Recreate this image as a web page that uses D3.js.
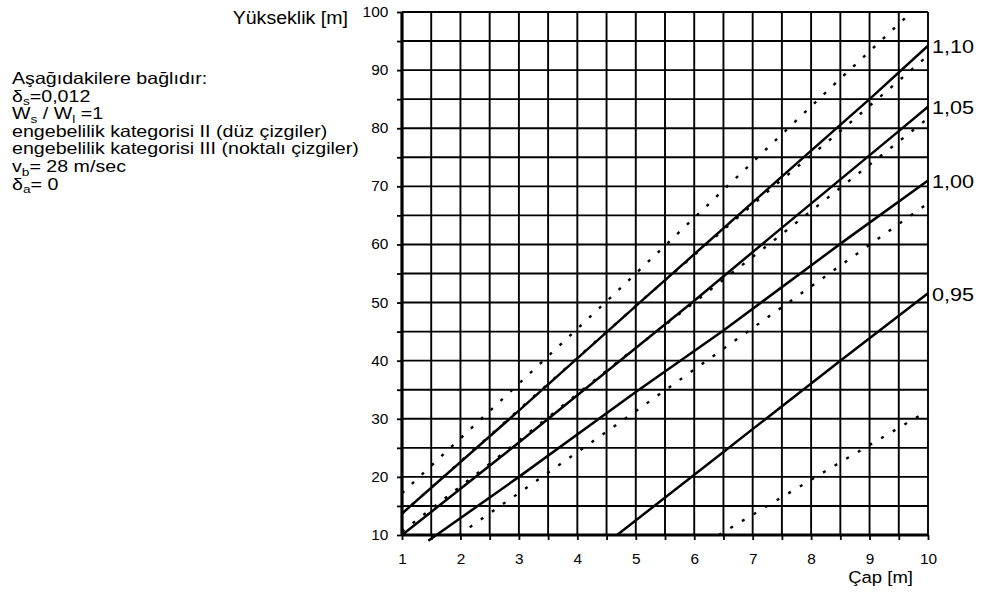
<!DOCTYPE html>
<html>
<head>
<meta charset="utf-8">
<script src="https://cdn.jsdelivr.net/npm/d3@7"></script>
<style>
  html, body { margin: 0; padding: 0; background: #fff; }
  svg { display: block; }
  text { font-family: "Liberation Sans", Arial, Helvetica, sans-serif; fill: #000; }
</style>
</head>
<body>
<svg id="chart" width="981" height="595"></svg>
<script>
// Axis tick labels
const diameterTicks = [1, 2, 3, 4, 5, 6, 7, 8, 9, 10];
const heightTicks = [10, 20, 30, 40, 50, 60, 70, 80, 90, 100];

// Ratio labels for the solid curves (top to bottom)
const ratioLabels = ["1,10", "1,05", "1,00", "0,95"];

// Terrain category II (solid lines): [diameter m, height m]
const catII_110 = [[1, 13.7], [3, 31.4], [5.1, 50.3], [8.49, 80.5], [9, 85], [10, 94.2]];
const catII_105 = [[1, 10], [3, 25.9], [6, 50.3], [7.24, 60.7], [9.5, 79.5], [10, 83.7]];
const catII_100 = [[1.45, 9.0], [3, 20], [5, 34.6], [6.5, 45.2], [8.58, 60.7], [10, 71]];
const catII_095 = [[4.68, 10], [6.5, 24.3], [8.5, 40], [10, 51.6]];

// Terrain category III (dotted lines)
const catIII_a = [[1, 17.2], [4.5, 50.2], [8.38, 87.4], [9.72, 100]];
const catIII_b = [[1, 13.7], [5.2, 51.2], [7.35, 69.9], [8.44, 79.0], [10, 92.5]];
const catIII_c = [[1, 10.6], [2.62, 23.2], [4.64, 39.4], [7.44, 61.3], [10, 81.7]];
const catIII_d = [[1.97, 10], [4.62, 28.6], [7.5, 49.2], [10, 67.1]];
const catIII_e = [[6.42, 10], [8.38, 21.8], [10, 31.4]];

// Side notes; segments flagged with 1 are subscripts
const notes = [
  [["Aşağıdakilere bağlıdır:"]],
  [["δ"], ["s", 1], ["=0,012"]],
  [["W"], ["s", 1], [" / W"], ["l", 1], [" =1"]],
  [["engebelilik kategorisi II (düz çizgiler)"]],
  [["engebelilik kategorisi III (noktalı çizgiler)"]],
  [["v"], ["b", 1], ["= 28 m/sec"]],
  [["δ"], ["a", 1], ["= 0"]]
];

const svg = d3.select("#chart");
const plotLeft = 402, plotRight = 928, plotTop = 12, plotBottom = 535;

const x = d3.scaleLinear().domain([1, 10]).range([plotLeft, plotRight]);
const y = d3.scaleLinear().domain([10, 100]).range([plotBottom, plotTop]);

const gridX = d3.range(1, 10.001, 0.5);
const gridY = d3.range(10, 100.001, 5);

// grid
const grid = svg.append("g").attr("stroke", "#000").attr("stroke-width", 1.9);
grid.selectAll("line.v").data(gridX).join("line")
  .attr("class", "v")
  .attr("x1", d => x(d)).attr("x2", d => x(d))
  .attr("y1", y(100)).attr("y2", y(10));
grid.selectAll("line.h").data(gridY).join("line")
  .attr("class", "h")
  .attr("x1", x(1)).attr("x2", x(10))
  .attr("y1", d => y(d)).attr("y2", d => y(d));

// heavier left and bottom axis lines
svg.append("line").attr("x1", x(1)).attr("x2", x(1)).attr("y1", y(100)).attr("y2", y(10) + 1)
  .attr("stroke", "#000").attr("stroke-width", 3.2);
svg.append("line").attr("x1", x(1)).attr("x2", x(10)).attr("y1", y(10)).attr("y2", y(10))
  .attr("stroke", "#000").attr("stroke-width", 2.8);

// axes (ticks on every grid line, labels on whole values)
const yAxis = d3.axisLeft(y).tickValues(gridY).tickSize(5).tickSizeOuter(0).tickPadding(7.5)
  .tickFormat(d => heightTicks.includes(d) ? d : "");
const xAxis = d3.axisBottom(x).tickValues(gridX).tickSize(5).tickSizeOuter(0).tickPadding(14)
  .tickFormat(d => diameterTicks.includes(d) ? d : "");

function styleAxis(g) {
  g.select(".domain").remove();
  g.selectAll(".tick line").attr("stroke", "#000").attr("stroke-width", 1.8);
  g.selectAll(".tick text")
    .attr("font-size", 14)
    .attr("font-family", "'Liberation Sans', Arial, sans-serif")
    .attr("fill", "#000")
    .attr("transform", "scale(1.1,1)");
}
svg.append("g").attr("transform", `translate(${plotLeft},0)`).call(yAxis).call(styleAxis);
svg.append("g").attr("transform", `translate(0,${plotBottom})`).call(xAxis).call(styleAxis);

// curves
const line = d3.line().x(d => x(d[0])).y(d => y(d[1]));

const dotted = [catIII_a, catIII_b, catIII_c, catIII_d, catIII_e];
svg.append("g").selectAll("path").data(dotted).join("path")
  .attr("d", line)
  .attr("fill", "none").attr("stroke", "#000")
  .attr("stroke-width", 2.4)
  .attr("stroke-dasharray", "3,10.5");

const solid = [catII_110, catII_105, catII_100, catII_095];
svg.append("g").selectAll("path").data(solid).join("path")
  .attr("d", line)
  .attr("fill", "none").attr("stroke", "#000")
  .attr("stroke-width", 2.5);

// stretched text helper
function label(x0, y0, str, size, sx, anchor) {
  return svg.append("text")
    .attr("transform", `translate(${x0},${y0}) scale(${sx},1)`)
    .attr("font-size", size)
    .attr("text-anchor", anchor || "start")
    .text(str);
}

// ratio labels at the right ends of the solid curves
solid.forEach((s, i) => {
  const end = s[s.length - 1];
  label(x(end[0]) + 4, y(end[1]) + 7.5, ratioLabels[i], 18.5, 1.17, "start");
});

// axis titles
label(348, 24, "Yükseklik [m]", 17.5, 1.12, "end");
label(913, 583, "Çap [m]", 17, 1.09, "end");

// notes block
notes.forEach((segs, i) => {
  const t = svg.append("text")
    .attr("transform", `translate(12,${84 + i * 17.6}) scale(1.19,1)`)
    .attr("font-size", 16.5);
  let shifted = false;
  segs.forEach(([s, sub]) => {
    const ts = t.append("tspan").text(s);
    if (sub && !shifted) { ts.attr("dy", 3.5).attr("font-size", 11.5); shifted = true; }
    else if (!sub && shifted) { ts.attr("dy", -3.5); shifted = false; }
    else if (sub) { ts.attr("font-size", 11.5); }
  });
});
</script>
</body>
</html>
